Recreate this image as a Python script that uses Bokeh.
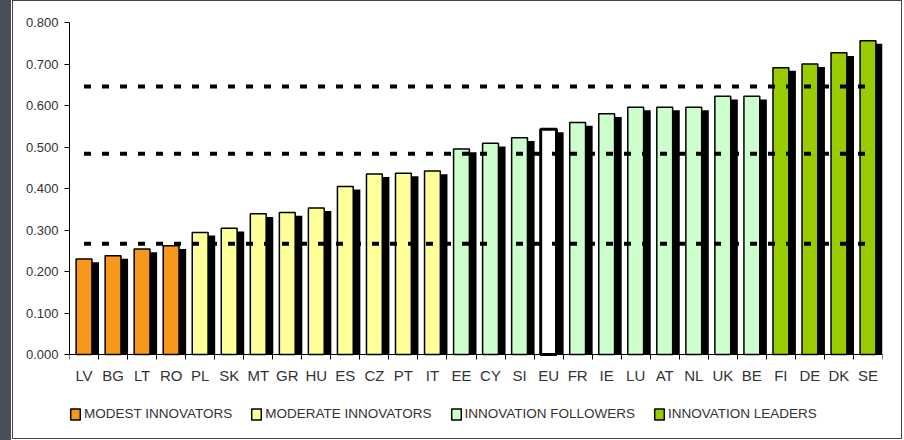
from bokeh.plotting import figure
from bokeh.models import (ColumnDataSource, Range1d, FixedTicker, NumeralTickFormatter,
                          Legend, LegendItem)
from bokeh.transform import dodge
from bokeh.embed import file_html
from bokeh.resources import INLINE

countries = ["LV", "BG", "LT", "RO", "PL", "SK", "MT", "GR", "HU", "ES", "CZ", "PT", "IT",
             "EE", "CY", "SI", "EU", "FR", "IE", "LU", "AT", "NL", "UK", "BE",
             "FI", "DE", "DK", "SE"]
scores = [0.230, 0.238, 0.254, 0.262, 0.294, 0.304, 0.339, 0.342, 0.353, 0.405, 0.435, 0.437, 0.442,
          0.495, 0.509, 0.522, 0.543, 0.559, 0.580, 0.596, 0.596, 0.596, 0.622, 0.622,
          0.691, 0.700, 0.727, 0.756]
groups = (["modest"] * 4 + ["moderate"] * 9 + ["followers"] * 3 + ["eu"] +
          ["followers"] * 7 + ["leaders"] * 4)
group_keys = ["modest", "moderate", "followers", "leaders"]
group_names = ["MODEST INNOVATORS", "MODERATE INNOVATORS", "INNOVATION FOLLOWERS", "INNOVATION LEADERS"]
group_colors = {"modest": "#F7971C", "moderate": "#FFFF99", "followers": "#CCFFCC",
                "leaders": "#99CC00", "eu": "#FFFFFF"}
thresholds = [0.267, 0.484, 0.646]
y_ticks = [0.0, 0.1, 0.2, 0.3, 0.4, 0.5, 0.6, 0.7, 0.8]

n = len(countries)
xs = list(range(n))
SHADOW_DROP = 0.0075

# frame: top at 22px (y=0.8), y=0 at 354px, frame bottom at 436px (room for labels + legend)
PX_PER_UNIT = 332 / 0.8
Y_MIN = -(436 - 354) / PX_PER_UNIT

p = figure(width=904, height=440, output_backend="svg", toolbar_location=None,
           x_range=Range1d(-0.5, n - 0.5), y_range=Range1d(Y_MIN, 0.8),
           min_border_left=69, min_border_right=22, min_border_top=22, min_border_bottom=4)
p.background_fill_color = None
p.border_fill_color = None
p.outline_line_color = None
p.xgrid.visible = False
p.ygrid.visible = False
line_c = "#444444"
p.styles = {
    "background": (
        "linear-gradient(#4b4f5b,#4b4f5b) 0px 0px/11px 100% no-repeat, "
        f"linear-gradient({line_c},{line_c}) 12px 0px/1px 439px no-repeat, "
        f"linear-gradient({line_c},{line_c}) 12px 0px/890px 1px no-repeat, "
        f"linear-gradient({line_c},{line_c}) 901px 0px/1px 439px no-repeat, "
        f"linear-gradient({line_c},{line_c}) 12px 438px/890px 1px no-repeat, "
        "#ffffff"
    )
}

# shadows
shadow_src = ColumnDataSource(dict(x=xs, top=[v - SHADOW_DROP for v in scores]))
p.vbar(x=dodge("x", 0.245, range=p.x_range), top="top", bottom=0, width=0.545,
       source=shadow_src, fill_color="black", line_color=None)

legend_items = []
for key, name in zip(group_keys + ["eu"], group_names + [None]):
    idx = [i for i, g in enumerate(groups) if g == key]
    src = ColumnDataSource(dict(x=[xs[i] for i in idx], top=[scores[i] for i in idx]))
    r = p.vbar(x="x", top="top", bottom=0, width=0.545, source=src,
               fill_color=group_colors[key], line_color="black",
               line_width=3 if key == "eu" else 1.5)
    if name:
        legend_items.append(LegendItem(label=name, renderers=[r]))

# threshold dashed lines
th_src = ColumnDataSource(dict(x0=[xs[0]] * len(thresholds), x1=[xs[-1]] * len(thresholds),
                               y=thresholds))
p.segment(x0="x0", x1="x1", y0="y", y1="y", source=th_src, line_color="black",
          line_width=4, line_dash="7 11")

# y axis
p.yaxis.ticker = FixedTicker(ticks=y_ticks, minor_ticks=[])
p.yaxis.formatter = NumeralTickFormatter(format="0.000")
p.yaxis.bounds = (0, 0.8)
p.yaxis.major_tick_out = 5
p.yaxis.major_tick_in = 0
p.yaxis.major_label_standoff = 6
p.yaxis.axis_line_color = "black"
p.yaxis.major_tick_line_color = "black"
p.yaxis.major_label_text_font = "Liberation Sans"
p.yaxis.major_label_text_font_size = "13px"
p.yaxis.major_label_text_color = "#333333"

# x axis, fixed at y = 0
p.xaxis.fixed_location = 0
p.xaxis.ticker = FixedTicker(ticks=xs, minor_ticks=[i - 0.5 for i in range(n + 1)])
p.xaxis.major_label_overrides = {i: c for i, c in enumerate(countries)}
p.xaxis.major_tick_out = 0
p.xaxis.major_tick_in = 0
p.xaxis.minor_tick_out = 5
p.xaxis.minor_tick_in = 0
p.xaxis.minor_tick_line_color = "black"
p.xaxis.axis_line_color = "black"
p.xaxis.major_label_standoff = 7
p.xaxis.major_label_text_font = "Liberation Sans"
p.xaxis.major_label_text_font_size = "15px"
p.xaxis.major_label_text_color = "#333333"

legend = Legend(items=legend_items, location=(0, 15), orientation="horizontal",
                padding=0, margin=0, spacing=18,
                glyph_width=12, glyph_height=14, label_standoff=3, label_height=14,
                label_text_font="Liberation Sans", label_text_font_size="13.5px",
                label_text_color="#333333", border_line_color=None,
                background_fill_alpha=0)
p.add_layout(legend, "center")

open("out.html", "w").write(file_html(p, INLINE))
